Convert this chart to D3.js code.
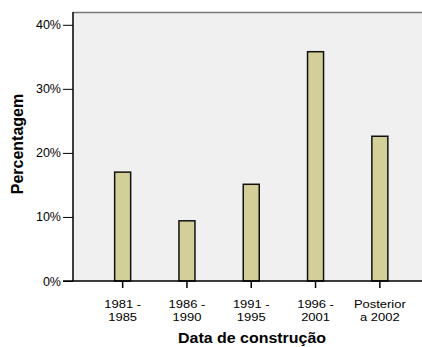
<!DOCTYPE html>
<html><head><meta charset="utf-8">
<script src="https://cdn.jsdelivr.net/npm/d3@7"></script>
<style>body{margin:0;background:#fff}svg{display:block}text{font-family:"Liberation Sans",Arial,sans-serif}</style>
</head><body>
<svg id="c" width="422" height="347"></svg>
<script>
const categories = [["1981 -","1985"],["1986 -","1990"],["1991 -","1995"],["1996 -","2001"],["Posterior","a 2002"]];
const values = [17.0, 9.4, 15.1, 35.8, 22.6];
const yTicks = [0, 10, 20, 30, 40];

const svg = d3.select("#c");
const L = 73, R = 422, T = 12, B = 281;
const x = d3.scaleBand().domain(d3.range(categories.length)).range([90.5, 412]).paddingInner(0.75).paddingOuter(0.375);
const y = d3.scaleLinear().domain([0, 42]).range([B, T]);

svg.append("rect").attr("x", L).attr("y", T).attr("width", R - L).attr("height", B - T).attr("fill", "#f0f0f0");
svg.append("line").attr("x1", L).attr("x2", R).attr("y1", T + 0.5).attr("y2", T + 0.5).attr("stroke", "#777").attr("stroke-width", 1.5);

const bw = 16;
svg.selectAll("rect.bar").data(values).enter().append("rect")
  .attr("class", "bar")
  .attr("x", (d, i) => x(i) + x.bandwidth() / 2 - bw / 2)
  .attr("y", d => y(d))
  .attr("width", bw)
  .attr("height", d => B - y(d))
  .attr("fill", "#d3cf98").attr("stroke", "#111").attr("stroke-width", 1.5);

const ya = svg.append("g").attr("transform", `translate(${L},0)`)
  .call(d3.axisLeft(y).tickValues(yTicks).tickSize(10).tickPadding(2).tickFormat(d => d + "%"));
ya.select(".domain").remove();
ya.selectAll("line").attr("stroke", "#000");
ya.selectAll("text").attr("font-size", 12.5).attr("fill", "#000");
svg.append("line").attr("x1", L).attr("x2", L).attr("y1", T).attr("y2", B).attr("stroke", "#000").attr("stroke-width", 1.5);

const xa = svg.append("g").attr("transform", `translate(0,${B})`)
  .call(d3.axisBottom(x).tickSize(7).tickFormat(""));
xa.select(".domain").remove();
xa.selectAll("line").attr("stroke", "#000").attr("stroke-width", 1.5);
svg.append("line").attr("x1", L - 10).attr("x2", R).attr("y1", B).attr("y2", B).attr("stroke", "#000").attr("stroke-width", 1.5);

categories.forEach((c, i) => {
  const cx = x(i) + x.bandwidth() / 2;
  c.forEach((s, j) => svg.append("text").attr("text-anchor", "middle").attr("font-size", 11)
    .attr("transform", `translate(${cx},${308 + j * 12.5}) scale(1.18,1)`).text(s));
});

svg.append("text").attr("x", 252).attr("y", 343).attr("text-anchor", "middle")
  .attr("font-size", 14).attr("font-weight", "bold")
  .attr("textLength", 148).attr("lengthAdjust", "spacingAndGlyphs").text("Data de construção");
svg.append("text").attr("transform", `translate(22.5,144) rotate(-90)`).attr("text-anchor", "middle")
  .attr("font-size", 16).attr("font-weight", "bold").text("Percentagem");
</script>
</body></html>
